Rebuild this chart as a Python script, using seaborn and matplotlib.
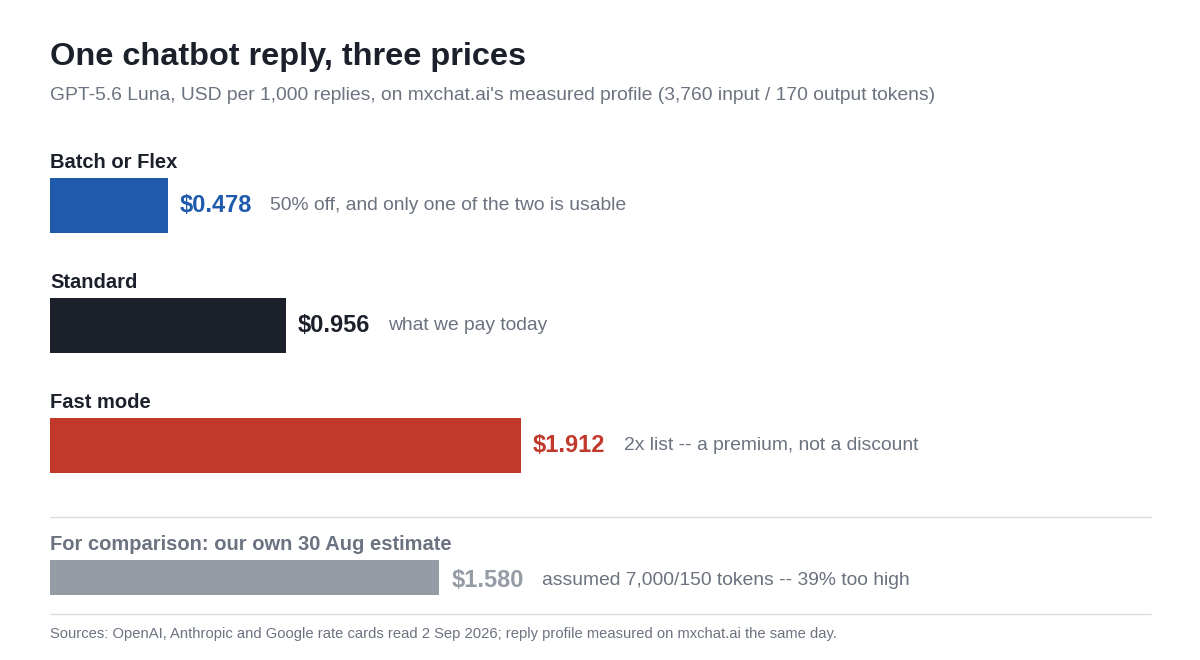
import matplotlib
matplotlib.use("Agg")
import matplotlib.pyplot as plt
import seaborn as sns
import pandas as pd

sns.set_theme(style="white")
plt.rcParams['font.family'] = ['Liberation Sans', 'DejaVu Sans']

tiers = ["Batch or Flex", "Standard", "Fast mode"]
prices = [0.478, 0.956, 1.912]
notes = ["50% off, and only one of the two is usable", "what we pay today",
         "2x list -- a premium, not a discount"]
colors = ["#1f5aad", "#1b202b", "#c0392b"]
cmp_label = "For comparison: our own 30 Aug estimate"
cmp_price = [1.580]
cmp_note = "assumed 7,000/150 tokens -- 39% too high"
cmp_color = "#959ca6"

W, H = 1200, 660
fig = plt.figure(figsize=(12, 6.6), dpi=100)
PPU = 471 / 1.912
xl = (-50 / PPU, (W - 50) / PPU)

def fy(p):
    return 1 - p / H

ax = fig.add_axes([0, fy(505.5), 1, 360 / H])
df = pd.DataFrame({"tier": tiers, "price": prices})
sns.barplot(data=df, x="price", y="tier", hue="tier", palette=colors, orient="h",
            width=55 / 120, legend=False, ax=ax, saturation=1, linewidth=0)
ax.set_xlim(*xl)
ax.set_ylim(2.5, -0.5)
ax.axis("off")

ax2 = fig.add_axes([0, fy(595), 1, 35 / H])
df2 = pd.DataFrame({"tier": [cmp_label], "price": cmp_price})
sns.barplot(data=df2, x="price", y="tier", color=cmp_color, orient="h", width=1,
            ax=ax2, saturation=1, linewidth=0)
ax2.set_xlim(*xl)
ax2.set_ylim(0.5, -0.5)
ax2.axis("off")

fig.canvas.draw()
r = fig.canvas.get_renderer()
grey = "#6b7280"

def label(a, yv, val, col, note, dy=0):
    t = a.annotate(f"${val:.3f}", (val, yv), xytext=(12 * 0.72, -dy * 0.72), textcoords="offset points",
                   ha="left", va="center", fontsize=17, fontweight="bold", color=col)
    bb = t.get_window_extent(r)
    ypix = a.transData.transform((val, yv))[1] - dy
    fig.text((bb.x1 + 18) / W, ypix / H, note, ha="left", va="center", fontsize=13.9, color=grey)

for i, (p, c, n) in enumerate(zip(prices, colors, notes)):
    label(ax, i, p, c, n)
    fig.text(50 / W, fy(162 + 120 * i), tiers[i], fontsize=14.5, fontweight="bold",
             color="#1b202b", va="center")
label(ax2, 0, cmp_price[0], cmp_color, cmp_note, dy=3)
fig.text(50 / W, fy(544), cmp_label, fontsize=14.5, fontweight="bold", color=grey, va="center")

fig.text(50 / W, fy(57), "One chatbot reply, three prices", fontsize=23.4, fontweight="bold",
         color="#1b202b", va="center")
fig.text(50 / W, fy(96), "GPT-5.6 Luna, USD per 1,000 replies, on mxchat.ai's measured profile (3,760 input / 170 output tokens)",
         fontsize=13.9, color=grey, va="center")
fig.text(50 / W, fy(634), "Sources: OpenAI, Anthropic and Google rate cards read 2 Sep 2026; reply profile measured on mxchat.ai the same day.",
         fontsize=10.6, color=grey, va="center")
for yp in (517, 614):
    fig.add_artist(plt.Line2D([50 / W, 1151 / W], [fy(yp)] * 2, color="#dddddd", lw=1))

fig.savefig("out.png", dpi=100, facecolor="white")
